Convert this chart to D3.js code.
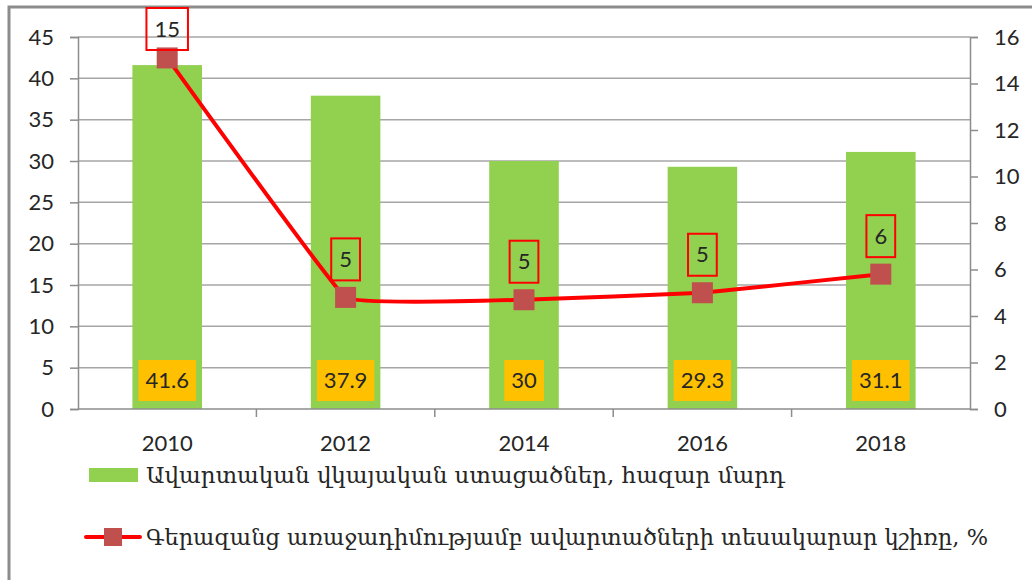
<!DOCTYPE html>
<html>
<head>
<meta charset="utf-8">
<script src="https://cdn.jsdelivr.net/npm/d3@7"></script>
<style>
  body { margin: 0; background: #fff; }
  svg { display: block; }
</style>
</head>
<body>
<svg></svg>
<script>
const years = ["2010", "2012", "2014", "2016", "2018"];
const graduates = [41.6, 37.9, 30, 29.3, 31.1];
const excellentShare = [15.1, 4.8, 4.7, 5.0, 5.8];
const leftTicks = [0, 5, 10, 15, 20, 25, 30, 35, 40, 45];
const rightTicks = [0, 2, 4, 6, 8, 10, 12, 14, 16];
const barName = "Ավարտական վկայական ստացածներ, հազար մարդ";
const lineName = "Գերազանց առաջադիմությամբ ավարտածների տեսակարար կշիռը, %";

const W = 1032, H = 580;
const m = { left: 78, right: 62, top: 37, bottom: 171 };
const font = "Lato, 'Open Sans', sans-serif";
const textColor = "#262626";

const svg = d3.select("svg").attr("width", W).attr("height", H);

// chart frame (only left and top edges visible)
svg.append("rect")
	.attr("x", 9).attr("y", 7)
	.attr("width", W + 20).attr("height", H + 20)
	.attr("fill", "#fff")
	.attr("stroke", "#8c8c8c")
	.attr("stroke-width", 3);

const x = d3.scaleBand().domain(years).range([m.left, W - m.right]);
const yL = d3.scaleLinear().domain([0, 45]).range([H - m.bottom, m.top]);
const yR = d3.scaleLinear().domain([0, 16]).range([H - m.bottom, m.top]);

// gridlines
svg.append("g")
	.selectAll("line")
	.data(leftTicks.slice(1))
	.join("line")
	.attr("x1", m.left).attr("x2", W - m.right)
	.attr("y1", (d) => yL(d)).attr("y2", (d) => yL(d))
	.attr("stroke", "#a6a6a6")
	.attr("stroke-width", 1.5);

// left axis
const leftAxis = svg.append("g")
	.attr("transform", `translate(${m.left},0)`)
	.call(d3.axisLeft(yL).tickValues(leftTicks).tickSize(8).tickPadding(16));
// right axis
const rightAxis = svg.append("g")
	.attr("transform", `translate(${W - m.right},0)`)
	.call(d3.axisRight(yR).tickValues(rightTicks).tickSize(8).tickPadding(16));

[leftAxis, rightAxis].forEach((g) => {
	g.select(".domain").attr("stroke", "#8c8c8c").attr("stroke-width", 1.5);
	g.selectAll(".tick line").attr("stroke", "#8c8c8c").attr("stroke-width", 1.5);
	g.selectAll("text")
		.attr("font-family", font)
		.attr("font-size", 22)
		.attr("fill", textColor);
});

// bars
const barW = x.bandwidth() * 0.39;
svg.append("g")
	.selectAll("rect")
	.data(graduates)
	.join("rect")
	.attr("x", (d, i) => x(years[i]) + x.bandwidth() / 2 - barW / 2)
	.attr("y", (d) => yL(d))
	.attr("width", barW)
	.attr("height", (d) => yL(0) - yL(d))
	.attr("fill", "#92d050");

// x axis
const bottom = svg.append("g").attr("transform", `translate(0,${yL(0)})`);
bottom.append("line")
	.attr("x1", m.left).attr("x2", W - m.right)
	.attr("stroke", "#8c8c8c").attr("stroke-width", 1.5);
bottom.selectAll(".sep")
	.data(years.slice(1))
	.join("line")
	.attr("class", "sep")
	.attr("x1", (d) => x(d)).attr("x2", (d) => x(d))
	.attr("y1", 0).attr("y2", 8)
	.attr("stroke", "#8c8c8c").attr("stroke-width", 1.5);
bottom.selectAll("text")
	.data(years)
	.join("text")
	.attr("x", (d) => x(d) + x.bandwidth() / 2)
	.attr("y", 42)
	.attr("text-anchor", "middle")
	.attr("font-family", font)
	.attr("font-size", 22)
	.attr("fill", textColor)
	.text((d) => d);

// bar value labels
const barLabels = svg.append("g")
	.selectAll("g")
	.data(graduates)
	.join("g")
	.attr("transform", (d, i) => `translate(${x(years[i]) + x.bandwidth() / 2},${yL(0) - 29})`);
barLabels.append("text")
	.attr("text-anchor", "middle")
	.attr("dy", "0.35em")
	.attr("font-family", font)
	.attr("font-size", 22)
	.attr("fill", textColor)
	.text((d) => d);
barLabels.each(function () {
	const g = d3.select(this);
	const bb = g.select("text").node().getBBox();
	g.insert("rect", "text")
		.attr("x", bb.x - 7).attr("y", -20)
		.attr("width", bb.width + 14).attr("height", 41)
		.attr("fill", "#ffc000");
});

// line
const cx = (i) => x(years[i]) + x.bandwidth() / 2;
const line = d3.line()
	.x((d, i) => cx(i))
	.y((d) => yR(d))
	.curve(d3.curveCardinal.tension(0.8));
svg.append("path")
	.datum(excellentShare)
	.attr("d", line)
	.attr("fill", "none")
	.attr("stroke", "#ff0000")
	.attr("stroke-width", 4);
svg.append("g")
	.selectAll("rect")
	.data(excellentShare)
	.join("rect")
	.attr("x", (d, i) => cx(i) - 10.5)
	.attr("y", (d) => yR(d) - 10.5)
	.attr("width", 21).attr("height", 21)
	.attr("fill", "#c0504d");

// line value labels
const fmt = d3.format(".0f");
const lineLabels = svg.append("g")
	.selectAll("g")
	.data(excellentShare)
	.join("g")
	.attr("transform", (d, i) => {
		const top = Math.max(yR(d) - 17 - 42, 8);
		return `translate(${cx(i)},${top + 21})`;
	});
lineLabels.append("text")
	.attr("text-anchor", "middle")
	.attr("dy", "0.35em")
	.attr("font-family", font)
	.attr("font-size", 22)
	.attr("fill", textColor)
	.text((d) => fmt(d));
lineLabels.each(function () {
	const g = d3.select(this);
	const bb = g.select("text").node().getBBox();
	g.insert("rect", "text")
		.attr("x", bb.x - 8).attr("y", -21)
		.attr("width", bb.width + 16).attr("height", 42)
		.attr("fill", "none")
		.attr("stroke", "#ff0000")
		.attr("stroke-width", 2);
});

// legend
const legendFont = "'DejaVu Serif', serif";
const lg1 = svg.append("g").attr("transform", "translate(89,475)");
lg1.append("rect")
	.attr("x", 0).attr("y", -7)
	.attr("width", 49).attr("height", 14)
	.attr("fill", "#92d050");
lg1.append("text")
	.attr("x", 57).attr("y", 8)
	.attr("font-family", legendFont)
	.attr("font-size", 22)
	.attr("textLength", 639)
	.attr("lengthAdjust", "spacingAndGlyphs")
	.attr("fill", textColor)
	.text(barName);

const lg2 = svg.append("g").attr("transform", "translate(86,537)");
lg2.append("line")
	.attr("x1", 0).attr("x2", 54)
	.attr("stroke", "#ff0000")
	.attr("stroke-width", 4)
	.attr("stroke-linecap", "round");
lg2.append("rect")
	.attr("x", 18).attr("y", -9)
	.attr("width", 18).attr("height", 18)
	.attr("fill", "#c0504d");
lg2.append("text")
	.attr("x", 60).attr("y", 8)
	.attr("font-family", legendFont)
	.attr("font-size", 22)
	.attr("textLength", 842)
	.attr("lengthAdjust", "spacingAndGlyphs")
	.attr("fill", textColor)
	.text(lineName);
</script>
</body>
</html>
